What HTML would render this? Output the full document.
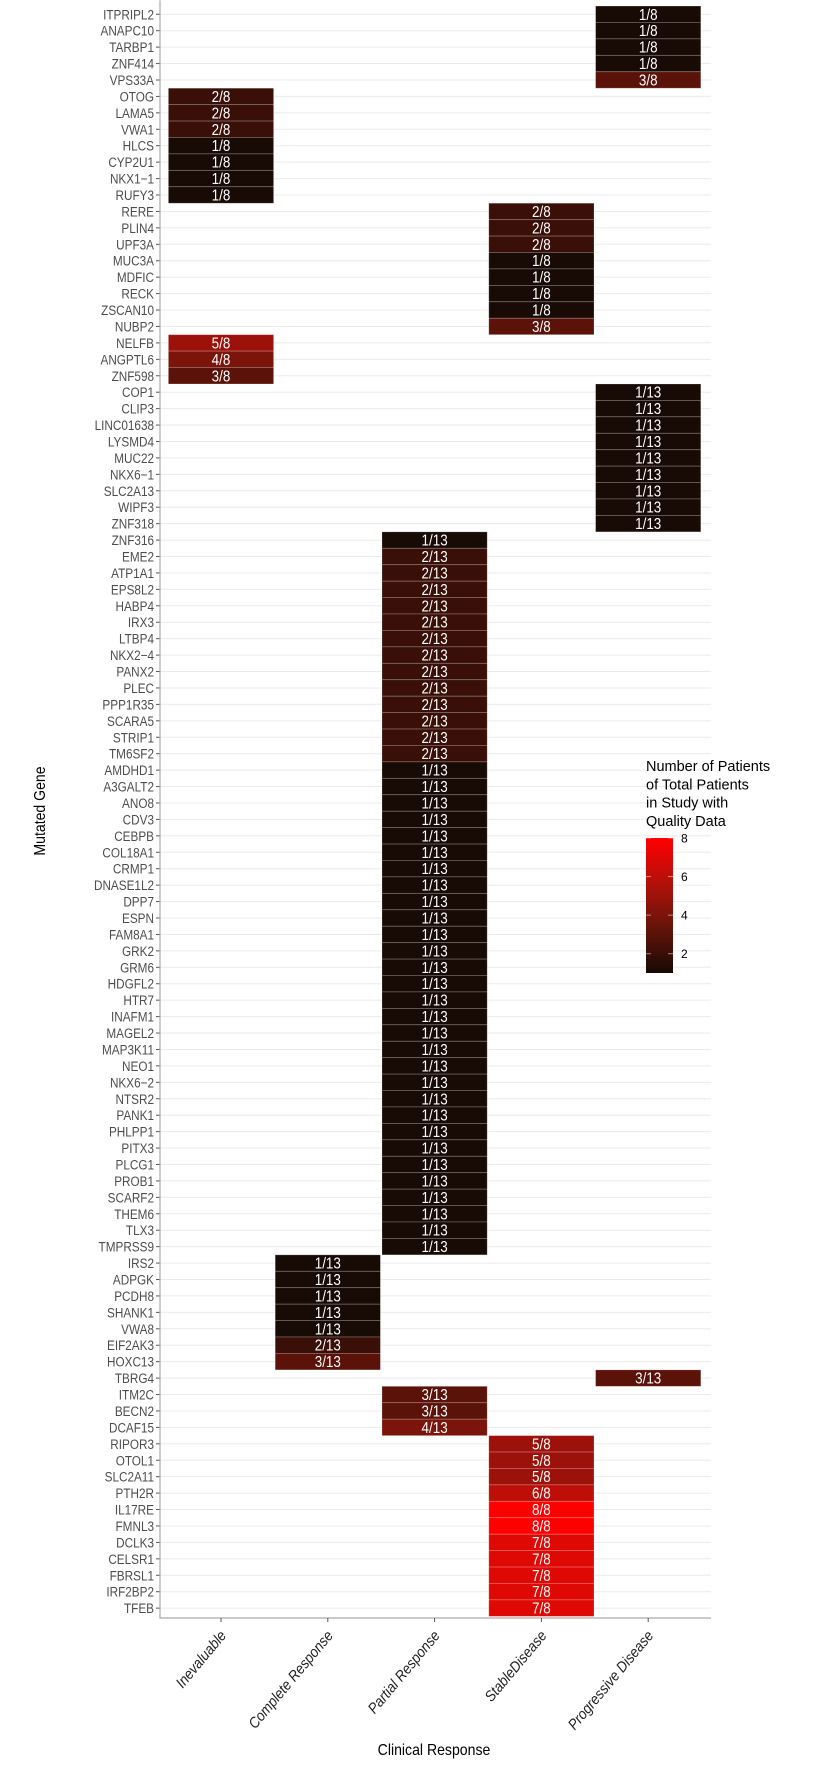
<!DOCTYPE html>
<html><head><meta charset="utf-8"><style>
body{margin:0;background:#fff}
svg{display:block;font-family:"Liberation Sans",sans-serif}
</style></head><body>
<svg id="chart" width="822" height="1766"></svg>
<script>
const genes=["ITPRIPL2","ANAPC10","TARBP1","ZNF414","VPS33A","OTOG","LAMA5","VWA1","HLCS","CYP2U1","NKX1\u22121","RUFY3","RERE","PLIN4","UPF3A","MUC3A","MDFIC","RECK","ZSCAN10","NUBP2","NELFB","ANGPTL6","ZNF598","COP1","CLIP3","LINC01638","LYSMD4","MUC22","NKX6\u22121","SLC2A13","WIPF3","ZNF318","ZNF316","EME2","ATP1A1","EPS8L2","HABP4","IRX3","LTBP4","NKX2\u22124","PANX2","PLEC","PPP1R35","SCARA5","STRIP1","TM6SF2","AMDHD1","A3GALT2","ANO8","CDV3","CEBPB","COL18A1","CRMP1","DNASE1L2","DPP7","ESPN","FAM8A1","GRK2","GRM6","HDGFL2","HTR7","INAFM1","MAGEL2","MAP3K11","NEO1","NKX6\u22122","NTSR2","PANK1","PHLPP1","PITX3","PLCG1","PROB1","SCARF2","THEM6","TLX3","TMPRSS9","IRS2","ADPGK","PCDH8","SHANK1","VWA8","EIF2AK3","HOXC13","TBRG4","ITM2C","BECN2","DCAF15","RIPOR3","OTOL1","SLC2A11","PTH2R","IL17RE","FMNL3","DCLK3","CELSR1","FBRSL1","IRF2BP2","TFEB"];
const categories=["Inevaluable","Complete Response","Partial Response","StableDisease","Progressive Disease"];
const cols=[5,5,5,5,5,1,1,1,1,1,1,1,4,4,4,4,4,4,4,4,1,1,1,5,5,5,5,5,5,5,5,5,3,3,3,3,3,3,3,3,3,3,3,3,3,3,3,3,3,3,3,3,3,3,3,3,3,3,3,3,3,3,3,3,3,3,3,3,3,3,3,3,3,3,3,3,2,2,2,2,2,2,2,5,3,3,3,4,4,4,4,4,4,4,4,4,4,4];
const counts=[1,1,1,1,3,2,2,2,1,1,1,1,2,2,2,1,1,1,1,3,5,4,3,1,1,1,1,1,1,1,1,1,1,2,2,2,2,2,2,2,2,2,2,2,2,2,1,1,1,1,1,1,1,1,1,1,1,1,1,1,1,1,1,1,1,1,1,1,1,1,1,1,1,1,1,1,1,1,1,1,1,2,3,3,3,3,4,5,5,5,6,8,8,7,7,7,7,7];
const totals=[8,8,8,8,8,8,8,8,8,8,8,8,8,8,8,8,8,8,8,8,8,8,8,13,13,13,13,13,13,13,13,13,13,13,13,13,13,13,13,13,13,13,13,13,13,13,13,13,13,13,13,13,13,13,13,13,13,13,13,13,13,13,13,13,13,13,13,13,13,13,13,13,13,13,13,13,13,13,13,13,13,13,13,13,13,13,13,8,8,8,8,8,8,8,8,8,8,8];
const legendTicks=[2,4,6,8];

const svg=document.getElementById('chart');
const NS='http://www.w3.org/2000/svg';
function mk(t,a,p){const e=document.createElementNS(NS,t);for(const k in a)e.setAttribute(k,a[k]);(p||svg).appendChild(e);return e;}
const L=160,R=711,T=4.4,B=1618;
const n=genes.length;
const rowH=(B-T)/(n-1+1.2);
const colW=106.8;
const yS=i=>T+(0.6+i)*rowH;
const xS=c=>221+(c-1)*colW;
function color(v){const t=Math.max(0,Math.min(1,(v-1)/7));
 const r=Math.round(24+231*t), g=Math.round(10+18*Math.sin(Math.PI*t)*0.8-10*t), b=Math.round(4+10*Math.sin(Math.PI*t)*0.8-4*t);
 return `rgb(${r},${Math.max(0,g)},${Math.max(0,b)})`;}

for(let i=0;i<n;i++){const y=yS(i);
 const g=mk('line',{x1:L,x2:R,y1:y,y2:y,stroke:'#ebebeb','stroke-width':1});
 
 
 const tk=mk('line',{x1:L-4,x2:L,y1:y,y2:y,stroke:'#555','stroke-width':1});
 
 
 const t=mk('text',{x:0,y:0,'text-anchor':'end','font-size':14,fill:'#4d4d4d',transform:`translate(${L-6},${y+5}) scale(0.84,1)`});
 t.textContent=genes[i];
 
 
}
for(let i=0;i<n;i++){const cx=xS(cols[i]),cy=yS(i),w=colW*0.985;
 const r=mk('rect',{x:cx-w/2,y:cy-rowH/2,width:w,height:rowH,fill:color(counts[i]),stroke:'rgba(255,255,255,0.25)','stroke-width':0.8});
 
 
 const t=mk('text',{x:0,y:0,'text-anchor':'middle','font-size':16,fill:'#fff',transform:`translate(${cx},${cy+5.5}) scale(0.84,1)`});
 t.textContent=counts[i]+'/'+totals[i];
 
 
}
const ax=mk('polyline',{points:`${L},${T-4} ${L},${B} ${R},${B}`,fill:'none',stroke:'#aaa','stroke-width':1.2});


categories.forEach((c,k)=>{const x=xS(k+1);
 const tk=mk('line',{x1:x,x2:x,y1:B,y2:B+4,stroke:'#555'});
 
 
 const t=mk('text',{x:0,y:0,'text-anchor':'end','font-size':15,fill:'#222','font-style':'italic',transform:`translate(${x+6},${B+18}) rotate(-50) scale(0.9,1)`});
 t.textContent=c;
 
 
});
const xt=mk('text',{x:0,y:0,'text-anchor':'middle','font-size':16,fill:'#000',transform:'translate(434,1755) scale(0.88,1)'});
xt.textContent='Clinical Response';


const yt=mk('text',{x:0,y:0,'text-anchor':'middle','font-size':16,fill:'#000',transform:'translate(45,811) rotate(-90) scale(0.88,1)'});
yt.textContent='Mutated Gene';


const lg=mk('g',{});


['Number of Patients','of Total Patients','in Study with','Quality Data'].forEach((s,k)=>{
 const t=mk('text',{x:646,y:771+k*18.3,'font-size':14.5,fill:'#000'},lg);t.textContent=s;
 
 });
const defs=mk('defs',{});
const gr=mk('linearGradient',{id:'cb',x1:0,y1:1,x2:0,y2:0},defs);
for(let s=0;s<=10;s++){mk('stop',{offset:s/10,'stop-color':color(1+7*s/10)},gr);}
const lyS=v=>838+(8-v)*(973-838)/7;
const cb=mk('rect',{x:646,y:838,width:27,height:135,fill:'url(#cb)'},lg);


legendTicks.forEach(v=>{const y=lyS(v);
 mk('line',{x1:646,x2:651,y1:y,y2:y,stroke:'rgba(255,255,255,0.5)'},lg);
 mk('line',{x1:668,x2:673,y1:y,y2:y,stroke:'rgba(255,255,255,0.5)'},lg);
 const t=mk('text',{x:681,y:y+4.5,'font-size':12,fill:'#000'},lg);t.textContent=v;
 
 });
</script>
</body></html>
